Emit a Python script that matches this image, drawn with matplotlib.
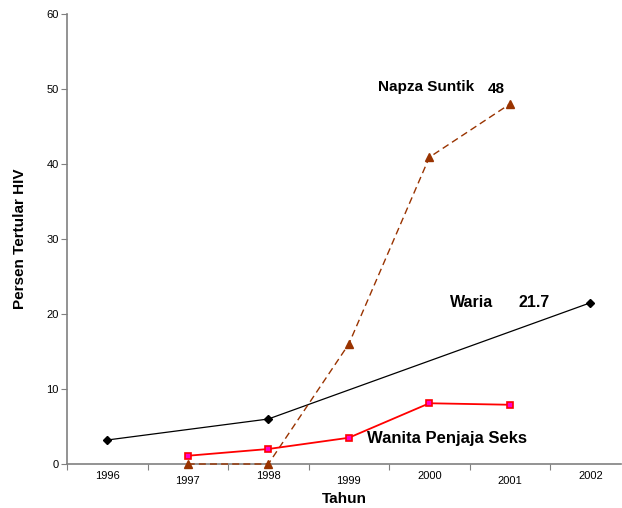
import matplotlib
matplotlib.use("Agg")
import matplotlib.pyplot as plt

years = ["1996", "1997", "1998", "1999", "2000", "2001", "2002"]

# index positions of each series on the year axis
waria_x = [0, 2, 6]
waria_y = [3.2, 6.0, 21.5]

napza_x = [1, 2, 3, 4, 5]
napza_y = [0, 0, 16.0, 40.9, 48.0]

wps_x = [1, 2, 3, 4, 5]
wps_y = [1.1, 2.0, 3.5, 8.1, 7.9]

plt.rcParams["font.family"] = ["Liberation Sans", "DejaVu Sans"]

fig = plt.figure(figsize=(6.22, 5.08), dpi=100)
ax = fig.add_axes([0.1077, 0.0866, 0.8907, 0.8858])

ax.plot(waria_x, waria_y, color="black", lw=0.9, marker="D", ms=4,
        mfc="black", mec="black", clip_on=False, zorder=3)
ax.plot(napza_x, napza_y, color="#993300", lw=1.0, ls=(0, (5, 3)),
        marker="^", ms=5.5, mfc="#993300", mec="#993300", clip_on=False, zorder=3)
ax.plot(wps_x, wps_y, color="#ff0000", lw=1.3, marker="s", ms=5,
        mfc="#ff00cc", mec="#ff0000", mew=1.2, clip_on=False, zorder=4)

# series labels
ax.text(3.36, 50.3, "Napza Suntik", fontsize=11, fontweight="bold", va="center")
ax.text(4.73, 50.0, "48", fontsize=11, fontweight="bold", va="center")
ax.text(4.25, 21.6, "Waria", fontsize=11.5, fontweight="bold", va="center")
ax.text(5.11, 21.6, "21.7", fontsize=11.5, fontweight="bold", va="center")
ax.text(3.23, 3.4, "Wanita Penjaja Seks", fontsize=12, fontweight="bold", va="center")

ax.set_xlim(-0.5, 6.38)
ax.set_ylim(0, 60)
ax.set_yticks(range(0, 61, 10))
ax.tick_params(axis="y", labelsize=8, length=4, color="#808080", pad=2)

# category axis: ticks at the boundaries, labels staggered
ax.set_xticks([i - 0.5 for i in range(len(years))])
ax.set_xticklabels([])
ax.tick_params(axis="x", length=4, color="#808080")
for i, yr in enumerate(years):
    off = 12 if i % 2 == 0 else 17
    ax.annotate(yr, xy=(i, 0), xycoords=("data", "axes fraction"),
                xytext=(0, -off), textcoords="offset pixels",
                ha="center", va="center", fontsize=8)

for s in ["top", "right"]:
    ax.spines[s].set_visible(False)
for s in ["left", "bottom"]:
    ax.spines[s].set_color("#808080")
    ax.spines[s].set_linewidth(1.2)

ax.set_xlabel("Tahun", fontsize=11, fontweight="bold", labelpad=13)
ax.set_ylabel("Persen Tertular HIV", fontsize=11, fontweight="bold", labelpad=14)

fig.savefig("out.png", dpi=100)
